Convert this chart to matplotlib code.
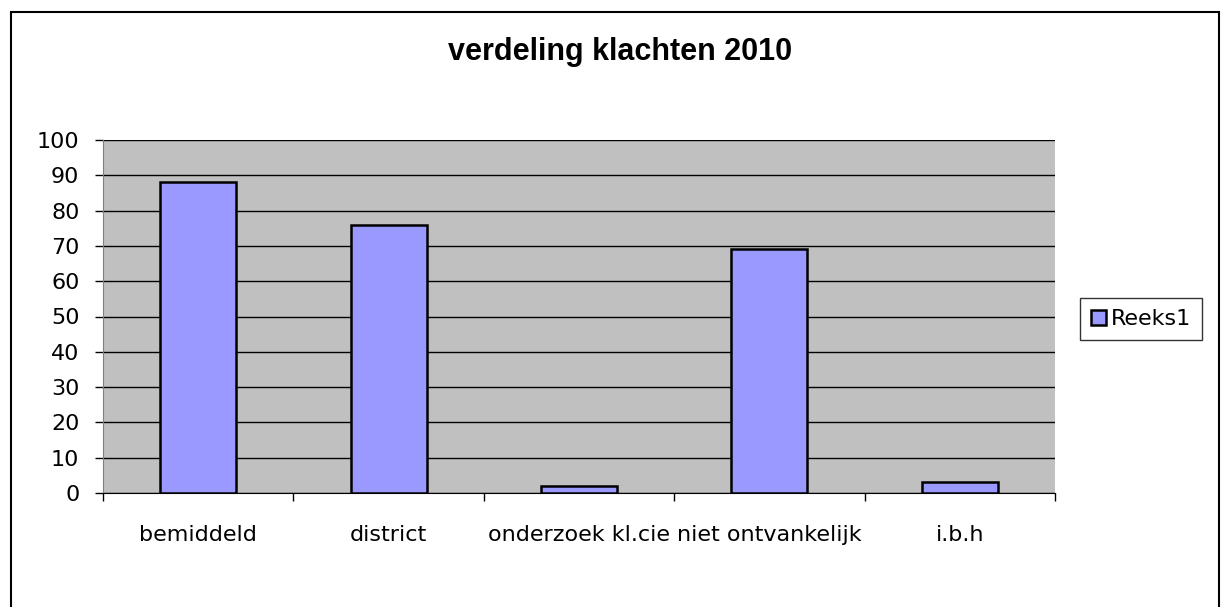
import matplotlib
matplotlib.use("Agg")
import matplotlib.pyplot as plt
from matplotlib.patches import Rectangle

categories = ["bemiddeld", "district", "onderzoek kl.cie", "niet ontvankelijk", "i.b.h"]
values = [88, 76, 2, 69, 3]
series_name = "Reeks1"
title = "verdeling klachten 2010"

plt.rcParams['font.family'] = ['DejaVu Sans']

W, H = 1221, 607
fig = plt.figure(figsize=(W / 100, H / 100), dpi=100)
fig.patch.set_color("white")

# outer chart frame (bottom runs off the image)
fig.add_artist(Rectangle((11 / W, -0.01), (1219 - 11) / W, 1.01 - 12 / H, transform=fig.transFigure,
                         fill=False, edgecolor="black", linewidth=1.5))

ax = fig.add_axes([103 / W, 1 - 493 / H, (1055 - 103) / W, (493 - 140) / H])
ax.set_facecolor("#c0c0c0")

x = range(len(categories))
ax.bar(x, values, width=0.4, color="#9999ff", edgecolor="black", linewidth=1.8,
       label=series_name, zorder=3)

ax.set_xlim(-0.5, len(categories) - 0.5)
ax.set_ylim(0, 100)
ax.set_yticks(range(0, 101, 10))
ax.yaxis.grid(True, color="black", linewidth=1.0, zorder=1)
ax.set_axisbelow(True)

# category separators as x ticks
ax.set_xticks([i - 0.5 for i in range(len(categories) + 1)])
ax.set_xticklabels([])
ax.tick_params(axis="x", length=6, width=1, color="black", direction="out")
ax.tick_params(axis="y", length=6, width=1, color="black", direction="out",
               labelsize=16, pad=11)
for i, c in enumerate(categories):
    ax.text(i, -11.8, c, ha="center", va="center", fontsize=16)

for side in ["top", "right"]:
    ax.spines[side].set_visible(False)
ax.spines["left"].set_color("#808080")
ax.spines["bottom"].set_color("black")

fig.text(620 / W, 1 - 52 / H, title, ha="center", va="center", fontsize=22,
         fontweight="bold", family="Liberation Sans")

leg = ax.legend(loc="center left", bbox_to_anchor=(1080 / W, 1 - 319 / H),
                bbox_transform=fig.transFigure, fontsize=16, frameon=True,
                fancybox=False, handlelength=0.65, handleheight=0.65, handletextpad=0.25,
                borderpad=0.5, borderaxespad=0)
leg.get_frame().set_edgecolor("black")
leg.get_frame().set_linewidth(1.0)

fig.savefig("out.png", dpi=100)
